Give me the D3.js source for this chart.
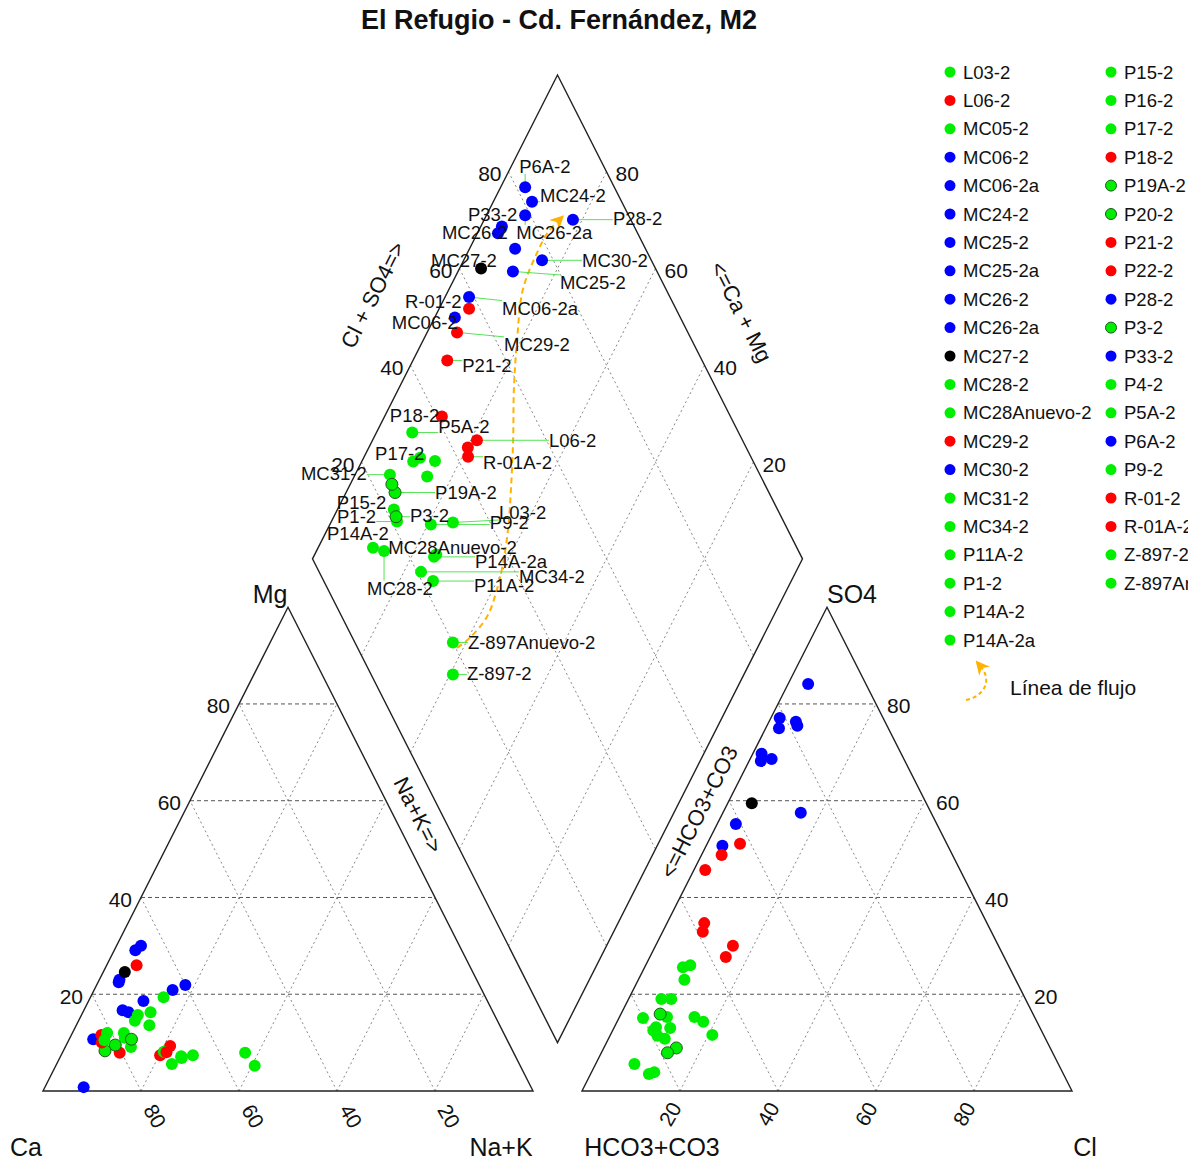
<!DOCTYPE html>
<html>
<head>
<meta charset="utf-8">
<script src="https://cdn.jsdelivr.net/npm/d3@7"></script>
<style>
body { margin: 0; background: #fff; }
text { font-family: "Liberation Sans", Arial, sans-serif; fill: #111; }
</style>
</head>
<body>
<script>
// sample names, in legend order
var samples = ["L03-2","L06-2","MC05-2","MC06-2","MC06-2a","MC24-2","MC25-2","MC25-2a","MC26-2","MC26-2a",
  "MC27-2","MC28-2","MC28Anuevo-2","MC29-2","MC30-2","MC31-2","MC34-2","P11A-2","P1-2","P14A-2","P14A-2a",
  "P15-2","P16-2","P17-2","P18-2","P19A-2","P20-2","P21-2","P22-2","P28-2","P3-2","P33-2","P4-2","P5A-2",
  "P6A-2","P9-2","R-01-2","R-01A-2","Z-897-2","Z-897Anuevo-2"];
var group = ["verde","rojo","verde","azul","azul","azul","azul","azul","azul","azul",
  "negro","verde","verde","rojo","azul","verde","verde","verde","verde","verde","verde",
  "verde","verde","verde","rojo","verde","verde","rojo","rojo","azul","verde","azul","verde","verde",
  "azul","verde","rojo","rojo","verde","verde"];

// cations, meq %
var caPct  = [68.3,69.4,71.5,72.9,84.4,75.4,70.2,74.4,73.3,91.3,71.0,69.9,68.2,82.3,63.1,80.9,70.9,65.7,77.5,77.8,68.2,
  74.0,77.5,72.8,80.4,80.5,83.2,83.0,72.4,60.0,76.6,66.6,65.7,82.2,65.0,71.3,67.9,70.8,54.2,54.8];
var mgPct  = [6.8,9.3,13.6,23.0,10.7,16.7,18.6,16.3,22.5,0.8,24.6,16.3,7.0,11.6,20.9,12.0,5.6,7.4,9.1,11.0,7.2,
  14.5,12.0,15.7,7.9,9.5,8.3,10.0,7.4,21.9,10.7,29.1,19.4,10.5,30.0,8.1,26.0,8.0,5.2,7.9];
var nakPct = [24.9,21.3,14.9,4.1,4.9,7.9,11.2,9.3,4.2,7.9,4.4,13.8,24.8,6.1,16.0,7.1,23.5,26.9,13.4,11.2,24.6,
  11.5,10.5,11.5,11.7,10.0,8.5,7.0,20.2,18.1,12.7,4.3,14.9,7.3,5.0,20.6,6.1,21.2,40.6,37.3];
// anions, meq %
var hco3Pct = [67.6,54.2,68.1,46.0,41.0,18.3,29.4,26.6,28.5,21.1,35.6,84.6,74.3,47.1,22.3,75.5,79.2,77.7,78.9,86.5,75.0,
  78.3,69.4,67.6,58.9,76.3,76.1,52.0,56.8,11.8,78.6,27.0,64.9,66.6,18.2,72.3,42.2,57.7,83.3,80.0];
var so4Pct  = [11.6,30.0,14.3,50.7,55.2,75.5,68.2,57.5,69.7,77.1,59.5,3.5,19.0,48.8,75.0,13.0,12.5,10.8,11.4,5.6,15.3,
  13.2,15.3,23.0,32.9,8.9,15.9,45.7,27.7,84.1,7.9,68.6,26.0,25.6,76.3,19.0,51.1,34.7,3.9,15.1];
var clPct   = [20.8,15.8,17.6,3.3,3.8,6.2,2.4,15.9,1.8,1.8,4.9,11.9,6.7,4.1,2.7,11.5,8.3,11.5,9.7,7.9,9.7,
  8.5,15.3,9.4,8.2,14.8,8.0,2.3,15.5,4.1,13.5,4.4,9.1,7.8,5.5,8.7,6.7,7.6,12.8,4.9];

// flow line traced in the diamond (Na+K %, Cl+SO4 %)
var flowNaK   = [38.7,40.3,41.6,40.8,39.3,36.9,33.3,28.6,23.6,19.1,15.1,14.2,14.3,15.2];
var flowClSO4 = [20.3,24.0,29.7,34.5,38.5,42.9,47.7,53.3,58.6,64.4,70.8,77.5,81.8,85.0];

var tickValues = [20, 40, 60, 80];
var outlined = ["P19A-2","P20-2","P3-2"];

// label placement in the diamond (text left / middle, px from the point)
var labelNudge = {
  "L03-2":[46,-10], "L06-2":[72,0], "MC06-2":[-63,5], "MC06-2a":[33,11], "MC24-2":[8,-6], "MC25-2":[47,11],
  "MC26-2":[-56,-1], "MC26-2a":[-9,17], "MC27-2":[-50,-8], "MC28-2":[-17,37], "MC28Anuevo-2":[-48,-7],
  "MC29-2":[47,12], "MC30-2":[40,0], "MC31-2":[-89,-1], "MC34-2":[98,5], "P11A-2":[41,4], "P1-2":[-60,-5],
  "P14A-2":[-46,-14], "P14A-2a":[41,5], "P15-2":[-57,-7], "P17-2":[-45,-4], "P18-2":[-52,-1], "P19A-2":[40,0],
  "P21-2":[15,5], "P28-2":[40,-1], "P3-2":[14,-1], "P33-2":[-34,-12], "P5A-2":[26,-6], "P6A-2":[-6,-21],
  "P9-2":[59,-2], "R-01-2":[-64,-7], "R-01A-2":[15,6], "Z-897-2":[14,-1], "Z-897Anuevo-2":[15,0]
};

var width = 1199, height = 1160;
var S3 = Math.sqrt(3) / 2, GAP = 0.1;

var svg = d3.select("body").append("svg")
    .attr("width", width)
    .attr("height", height);

// ternary units -> pixels
var x = d3.scaleLinear().domain([0, 2 + GAP]).range([43, 1072]);
var y = d3.scaleLinear().domain([0, GAP * S3 + 2 * S3]).range([1091, 75]);

var color = d3.scaleOrdinal()
    .domain(["verde", "rojo", "azul", "negro"])
    .range(["#00ee00", "#ff0000", "#0000ff", "#000000"]);

// projections (fractions 0..1)
function cation(mg, nak) { return [x(nak + mg / 2), y(mg * S3)]; }
function anion(so4, cl) { return [x(1 + GAP + cl + so4 / 2), y(so4 * S3)]; }
function diamond(nak, clso4) {
  var bx = 1 + GAP / 2, by = GAP * S3;
  return [x(bx - (1 - nak) / 2 + clso4 / 2), y(by + (1 - nak) * S3 + clso4 * S3)];
}

var data = samples.map(function(s, i) {
  return {
    name: s, group: group[i],
    ca: caPct[i] / 100, mg: mgPct[i] / 100, nak: nakPct[i] / 100,
    hco3: hco3Pct[i] / 100, so4: so4Pct[i] / 100, cl: clPct[i] / 100
  };
});

var edgeAngle = Math.atan2(y(S3) - y(0), x(0.5) - x(0)) * 180 / Math.PI; // about -63

// ---------- grid ----------
var grid = svg.append("g");
function seg(p, q, dash, stroke) {
  grid.append("line")
      .attr("x1", p[0]).attr("y1", p[1]).attr("x2", q[0]).attr("y2", q[1])
      .attr("stroke", stroke).attr("stroke-width", 1)
      .attr("stroke-dasharray", dash);
}
var dotted = "2,3", dashed = "4,3";
tickValues.forEach(function(t) {
  var k = t / 100;
  // cation triangle
  seg(cation(k, 0), cation(k, 1 - k), dashed, "#555");
  seg(cation(0, k), cation(1 - k, k), dotted, "#888");
  seg(cation(0, 1 - k), cation(1 - k, 0), dotted, "#888");
  // anion triangle
  seg(anion(k, 0), anion(k, 1 - k), dashed, "#555");
  seg(anion(0, k), anion(1 - k, k), dotted, "#888");
  seg(anion(0, 1 - k), anion(1 - k, 0), dotted, "#888");
  // diamond
  seg(diamond(k, 0), diamond(k, 1), dotted, "#888");
  seg(diamond(0, k), diamond(1, k), dotted, "#888");
});

// ---------- outlines ----------
function poly(pts) {
  svg.append("path")
      .attr("d", d3.line()(pts) + "Z")
      .attr("fill", "none").attr("stroke", "#222").attr("stroke-width", 1.4);
}
poly([cation(0, 0), cation(0, 1), cation(1, 0)]);
poly([anion(0, 0), anion(0, 1), anion(1, 0)]);
poly([diamond(1, 0), diamond(0, 0), diamond(0, 1), diamond(1, 1)]);

// ---------- tick labels ----------
var ticks = svg.append("g").style("font-size", "21px");
tickValues.forEach(function(t) {
  var k = t / 100, p;
  p = cation(k, 0);
  ticks.append("text").attr("x", p[0] - 9).attr("y", p[1] + 2)
      .attr("text-anchor", "end").attr("dominant-baseline", "central").text(t);
  p = anion(k, 1 - k);
  ticks.append("text").attr("x", p[0] + 11).attr("y", p[1] + 2)
      .attr("dominant-baseline", "central").text(t);
  p = cation(0, 1 - k);
  ticks.append("text").attr("x", p[0] + 14).attr("y", p[1] + 25)
      .attr("text-anchor", "middle").attr("dominant-baseline", "central")
      .attr("transform", "rotate(60," + (p[0] + 14) + "," + (p[1] + 25) + ")").text(t);
  p = anion(0, k);
  ticks.append("text").attr("x", p[0] - 10).attr("y", p[1] + 23)
      .attr("text-anchor", "middle").attr("dominant-baseline", "central")
      .attr("transform", "rotate(-60," + (p[0] - 10) + "," + (p[1] + 23) + ")").text(t);
  p = diamond(0, k);
  ticks.append("text").attr("x", p[0] - 7).attr("y", p[1] + 2)
      .attr("text-anchor", "end").attr("dominant-baseline", "central").text(t);
  p = diamond(1 - k, 1);
  ticks.append("text").attr("x", p[0] + 9).attr("y", p[1] + 2)
      .attr("dominant-baseline", "central").text(t);
});

// ---------- axis titles ----------
var titles = svg.append("g").style("font-size", "25px");
function title(txt, px, py, anchor) {
  titles.append("text").attr("x", px).attr("y", py).attr("text-anchor", anchor || "middle").text(txt);
}
var apexL = cation(1, 0), apexR = anion(1, 0);
title("Mg", apexL[0] - 18, apexL[1] - 4);
title("SO4", apexR[0] + 25, apexR[1] - 4);
title("Ca", 26, 1156);
title("Na+K", 501, 1156);
title("HCO3+CO3", 652, 1156);
title("Cl", 1085, 1156);

function edgeTitle(txt, px, py, ang) {
  svg.append("text").style("font-size", "22px")
      .attr("x", px).attr("y", py)
      .attr("text-anchor", "middle").attr("dominant-baseline", "central")
      .attr("transform", "rotate(" + ang + "," + px + "," + py + ")")
      .text(txt);
}
edgeTitle("Cl + SO4=>", 373, 295, edgeAngle);
edgeTitle("<=Ca + Mg", 741, 312, -edgeAngle);
edgeTitle("Na+K=>", 418, 815, -edgeAngle);
edgeTitle("<=HCO3+CO3", 699, 812, edgeAngle);

svg.append("text")
    .attr("x", 559).attr("y", 29)
    .attr("text-anchor", "middle")
    .style("font-size", "27px").style("font-weight", "bold")
    .text("El Refugio - Cd. Fern\u00e1ndez, M2");

// ---------- flow line ----------
var orange = "#ffb300";
var defs = svg.append("defs");
defs.append("marker")
    .attr("id", "arrow").attr("viewBox", "0 0 10 10")
    .attr("refX", 4).attr("refY", 5)
    .attr("markerWidth", 7).attr("markerHeight", 7)
    .attr("orient", "auto")
  .append("path").attr("d", "M0,0L10,5L0,10L3,5Z").attr("fill", orange);
defs.append("clipPath").attr("id", "legclip")
  .append("rect").attr("x", 900).attr("y", 0).attr("width", 288).attr("height", 760);

var flowPts = flowNaK.map(function(v, i) { return diamond(v / 100, flowClSO4[i] / 100); });
svg.append("path")
    .attr("d", d3.line().curve(d3.curveCatmullRom)(flowPts))
    .attr("fill", "none").attr("stroke", orange).attr("stroke-width", 2)
    .attr("stroke-dasharray", "6,4")
    .attr("marker-end", "url(#arrow)");

// ---------- points ----------
var leaderG = svg.append("g");
var dotG = svg.append("g");
var labelG = svg.append("g").style("font-size", "18.5px");

function dots(project) {
  data.forEach(function(d) {
    var p = project(d);
    dotG.append("circle")
        .attr("cx", p[0]).attr("cy", p[1]).attr("r", 6)
        .attr("fill", color(d.group))
        .attr("stroke", outlined.indexOf(d.name) >= 0 ? "#1d5a1d" : "none")
        .attr("stroke-width", 1);
  });
}
dots(function(d) { return cation(d.mg, d.nak); });
dots(function(d) { return anion(d.so4, d.cl); });
dots(function(d) { return diamond(d.nak, d.so4 + d.cl); });

// labels with leader segments (diamond only)
data.forEach(function(d) {
  var nudge = labelNudge[d.name];
  if (!nudge) return;
  var p = diamond(d.nak, d.so4 + d.cl);
  var t = labelG.append("text")
      .attr("x", p[0] + nudge[0]).attr("y", p[1] + nudge[1])
      .attr("dominant-baseline", "central")
      .text(d.name);
  var b = t.node().getBBox();
  var qx = Math.max(b.x, Math.min(p[0], b.x + b.width));
  var qy = Math.max(b.y + 3, Math.min(p[1], b.y + b.height - 3));
  if (Math.hypot(qx - p[0], qy - p[1]) > 8) {
    leaderG.append("line")
        .attr("x1", p[0]).attr("y1", p[1]).attr("x2", qx).attr("y2", qy)
        .attr("stroke", "#44e044").attr("stroke-width", 0.9);
  }
});

// ---------- legend ----------
var legend = svg.append("g").attr("clip-path", "url(#legclip)").style("font-size", "18.5px");
var perCol = 21, colX = [950, 1111], rowH = 28.4;
data.forEach(function(d, i) {
  var cx = colX[Math.floor(i / perCol)], cy = 72 + (i % perCol) * rowH;
  legend.append("circle").attr("cx", cx).attr("cy", cy).attr("r", 5.5)
      .attr("fill", color(d.group))
      .attr("stroke", outlined.indexOf(d.name) >= 0 ? "#1d5a1d" : "none");
  legend.append("text").attr("x", cx + 13).attr("y", cy)
      .attr("dominant-baseline", "central").text(d.name);
});
legend.append("path")
    .attr("d", "M966,700 C985,696 992,680 981,667")
    .attr("fill", "none").attr("stroke", orange).attr("stroke-width", 2)
    .attr("stroke-dasharray", "4,3")
    .attr("marker-end", "url(#arrow)");
legend.append("text").attr("x", 1010).attr("y", 687)
    .attr("dominant-baseline", "central").style("font-size", "21px")
    .text("L\u00ednea de flujo");
</script>
</body>
</html>
